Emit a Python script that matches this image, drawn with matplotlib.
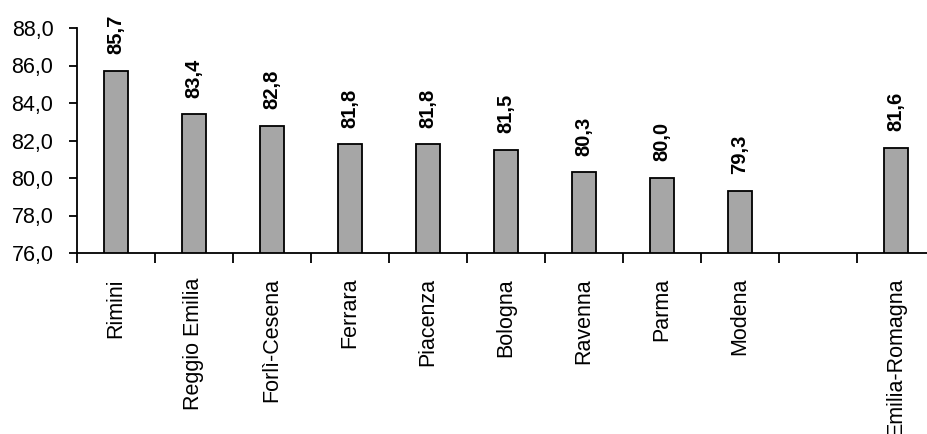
import matplotlib
matplotlib.use("Agg")
import matplotlib.pyplot as plt
from matplotlib.ticker import FuncFormatter, FixedLocator
import numpy as np

plt.rcParams['font.family'] = ['Liberation Sans', 'DejaVu Sans']

provinces = ["Rimini", "Reggio Emilia", "Forlì-Cesena", "Ferrara", "Piacenza",
             "Bologna", "Ravenna", "Parma", "Modena"]
province_values = [85.7, 83.4, 82.8, 81.8, 81.8, 81.5, 80.3, 80.0, 79.3]
region = "Emilia-Romagna"
region_value = 81.6

y_min, y_max, y_step = 76.0, 88.0, 2.0

# one empty slot separates the provinces from the regional total
labels = provinces + [region]
values = province_values + [region_value]
positions = list(range(len(provinces))) + [len(provinces) + 1]
n_slots = len(provinces) + 2

fig = plt.figure(figsize=(9.28, 4.34), dpi=100)
ax = fig.add_axes([77 / 928, 1 - 253 / 434, 858 / 928, 225 / 434])

ax.bar(positions, [v - y_min for v in values], bottom=y_min, width=0.32,
       color="#a6a6a6", edgecolor="black", linewidth=1.3, zorder=3)

for x, v in zip(positions, values):
    ax.annotate(f"{v:.1f}".replace(".", ","), xy=(x, v), xytext=(0, 12),
                textcoords="offset points", rotation=90, ha="center", va="bottom",
                fontsize=14.5, fontweight="bold")

ax.set_xlim(-0.5, n_slots - 0.5)
ax.set_ylim(y_min, y_max)
ax.set_yticks(np.arange(y_min, y_max + 0.01, y_step))
ax.yaxis.set_major_formatter(FuncFormatter(lambda v, _: f"{v:.1f}".replace(".", ",")))

ax.set_xticks(positions)
ax.set_xticklabels(labels, rotation=90, va="top", ha="center")
ax.xaxis.set_minor_locator(FixedLocator(np.arange(-0.5, n_slots, 1.0)))
ax.tick_params(axis="x", which="major", length=0, pad=18, labelsize=15.5)
ax.tick_params(axis="x", which="minor", length=7, width=1.3, direction="out")
ax.tick_params(axis="y", length=6, width=1.3, direction="out", pad=11, labelsize=15.5)

for side in ("top", "right"):
    ax.spines[side].set_visible(False)
for side in ("left", "bottom"):
    ax.spines[side].set_linewidth(1.3)

fig.savefig("out.png", dpi=100)
